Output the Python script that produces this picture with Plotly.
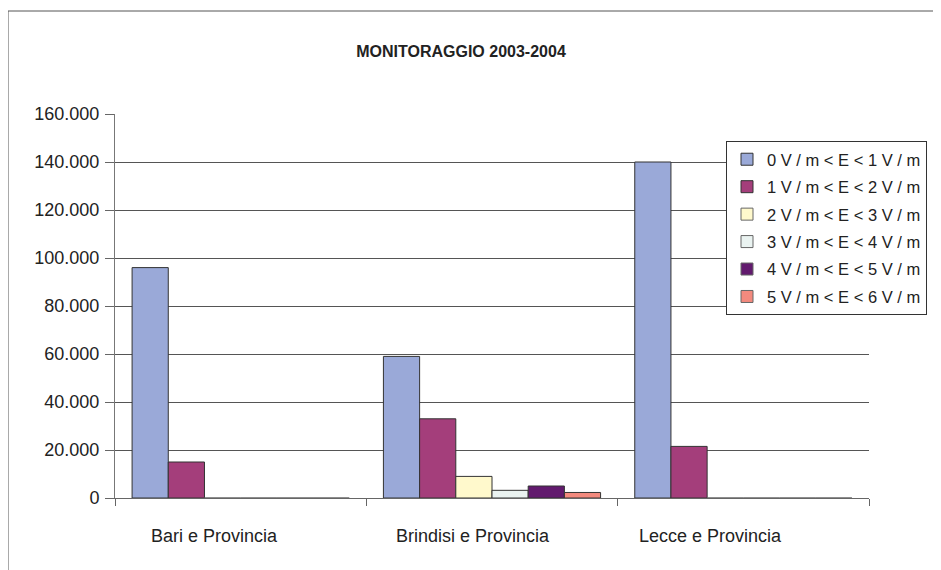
import plotly.graph_objects as go

categories = ["Bari e Provincia", "Brindisi e Provincia", "Lecce e Provincia"]
series_names = [
    "0 V / m < E < 1 V / m",
    "1 V / m < E < 2 V / m",
    "2 V / m < E < 3 V / m",
    "3 V / m < E < 4 V / m",
    "4 V / m < E < 5 V / m",
    "5 V / m < E < 6 V / m",
]
s0 = [96000, 59000, 140000]
s1 = [15000, 33000, 21500]
s2 = [0, 9000, 0]
s3 = [0, 3200, 0]
s4 = [0, 5000, 0]
s5 = [0, 2300, 0]
series_values = [s0, s1, s2, s3, s4, s5]
y_ticks = [0, 20000, 40000, 60000, 80000, 100000, 120000, 140000, 160000]
title_text = "MONITORAGGIO 2003-2004"

colors = ["#9AA9D8", "#A43E7B", "#FFF9CC", "#EAF3F1", "#621A6E", "#F38A7E"]

# page has an 8px body margin; coordinates below are screen pixels minus 8
OFF = 8
W, H = 941 - OFF, 570 - OFF
L, R, T, B = 115 - OFF, 869 - OFF, 114 - OFF, 498 - OFF
FONT = "Liberation Sans, Arial, sans-serif"
AXIS_COLOR = "#666666"

def px(x):
    return (x - OFF - L) / (R - L)

def py(y):
    return (B - (y - OFF)) / (B - T)

fig = go.Figure()
for i, (name, vals, c) in enumerate(zip(series_names, series_values, colors)):
    fig.add_trace(go.Bar(
        x=categories, y=vals, name=name, legendgroup="g%d" % i,
        marker=dict(color=c, line=dict(
            color=["#333333" if v else AXIS_COLOR for v in vals], width=1)),
    ))

label_shift = [-26, -19, -33]
annotations = []
for cat, sh in zip(categories, label_shift):
    annotations.append(dict(
        x=cat, xref="x", y=0, yref="paper", yanchor="middle", xanchor="center",
        yshift=-38, xshift=sh, text=cat, showarrow=False,
        font=dict(family=FONT, size=18, color="#222222"),
    ))

fig.update_layout(
    width=W, height=H,
    margin=dict(l=L, r=W - R, t=T, b=H - B, pad=0),
    paper_bgcolor="white", plot_bgcolor="white",
    barmode="group", bargap=0.136, bargroupgap=0,
    separators=",.",
    showlegend=True,
    title=dict(
        text="<b>" + title_text + "</b>",
        x=(461 - OFF) / W, xref="container", xanchor="center",
        y=1 - (51 - OFF) / H, yref="container", yanchor="middle",
        font=dict(family=FONT, size=16, color="#222222"),
    ),
    legend=dict(
        x=px(726), y=py(141), xanchor="left", yanchor="top",
        bordercolor="#333333", borderwidth=1, bgcolor="white",
        font=dict(family=FONT, size=16.5, color="#222222"),
        tracegroupgap=3, entrywidth=170, entrywidthmode="pixels",
    ),
    annotations=annotations,
    shapes=[
        dict(type="line", xref="paper", yref="paper",
             x0=px(8), x1=px(950), y0=py(11), y1=py(11),
             line=dict(color="#555555", width=1)),
        dict(type="line", xref="paper", yref="paper",
             x0=px(8), x1=px(8), y0=py(11), y1=py(580),
             line=dict(color="#555555", width=1)),
    ],
)

fig.update_xaxes(
    showgrid=False, showline=True, linecolor=AXIS_COLOR, linewidth=1,
    ticks="outside", tickson="boundaries", ticklen=7, tickcolor=AXIS_COLOR,
    showticklabels=False, fixedrange=True,
)
fig.update_yaxes(
    range=[0, 160000], tickvals=y_ticks, tickformat=",d",
    showgrid=True, gridcolor="#555555", gridwidth=1,
    showline=True, linecolor="#777777", linewidth=1,
    ticks="outside", ticklen=9, tickcolor=AXIS_COLOR,
    ticklabelstandoff=2,
    tickfont=dict(family=FONT, size=18, color="#222222"),
    zeroline=False, fixedrange=True,
)

fig.write_html("out.html")
